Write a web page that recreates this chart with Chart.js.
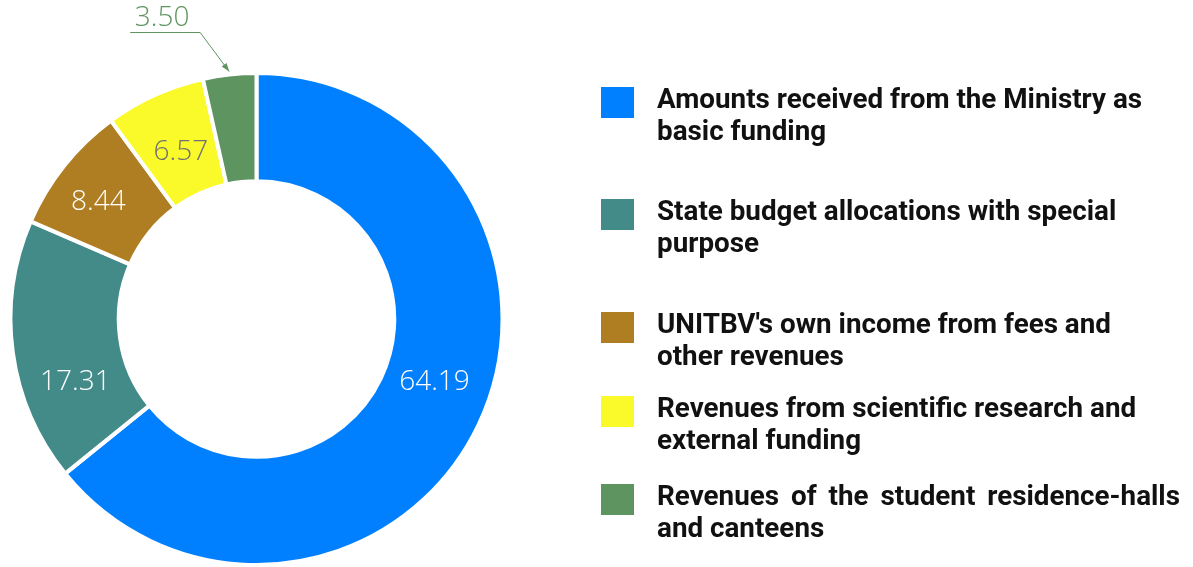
<!DOCTYPE html>
<html>
<head>
<meta charset="utf-8">
<script src="https://cdn.jsdelivr.net/npm/chart.js@4.4.1/dist/chart.umd.min.js"></script>
<style>
  html, body { margin: 0; padding: 0; background: #ffffff; }
  #wrap { position: relative; width: 1193px; height: 567px; overflow: hidden; }
  #chart { position: absolute; left: 0; top: 0; }
  #legend { position: absolute; left: 0; top: 0; width: 1193px; height: 567px; pointer-events: none;
            font-family: Roboto, "Open Sans", sans-serif; font-weight: 700; font-size: 27.8px; color: #111; }
  .item { position: absolute; left: 601px; }
  .box { position: absolute; left: 0; width: 33px; height: 31px; }
  .txt { position: absolute; left: 56px; width: 523px; line-height: 32px; white-space: nowrap; }
  .line { display: block; }
  .just { text-align: justify; text-align-last: justify; }
</style>
</head>
<body>
<div id="wrap">
  <canvas id="chart" width="1193" height="567"></canvas>
  <div id="legend"></div>
</div>
<script>
const categories = [
  "Amounts received from the Ministry as basic funding",
  "State budget allocations with special purpose",
  "UNITBV's own income from fees and other revenues",
  "Revenues from scientific research and external funding",
  "Revenues of the student residence-halls and canteens"
];
const legendLines = [
  ["Amounts received from the Ministry as", "basic funding"],
  ["State budget allocations with special", "purpose"],
  ["UNITBV's own income from fees and", "other revenues"],
  ["Revenues from scientific research and", "external funding"],
  ["Revenues of the student residence-halls", "and canteens"]
];
const values = [64.19, 17.31, 8.44, 6.57, 3.50];
const valueLabels = ["64.19", "17.31", "8.44", "6.57", "3.50"];

const colors = ["#0080ff", "#438b89", "#b07e22", "#fafa2a", "#5e9460"];
const labelColors = ["#ffffff", "#ffffff", "#ffffff", "#707070", "#5e9460"];
const externalLabel = [false, false, false, false, true];
const labelAngleShiftDeg = [-6, -11.5, -2, 0, 0];
const labelRadiusShift = [-3, 0, 5, -9, 0];
const legendTops = [87, 199, 312, 396, 484];
const justifyFirstLine = [false, false, false, false, true];

// HTML legend
const leg = document.getElementById('legend');
categories.forEach((c, i) => {
  const it = document.createElement('div');
  it.className = 'item';
  it.style.top = legendTops[i] + 'px';
  const b = document.createElement('div');
  b.className = 'box';
  b.style.background = colors[i];
  it.appendChild(b);
  const t = document.createElement('div');
  t.className = 'txt';
  t.style.top = '-4px';
  legendLines[i].forEach((ln, j) => {
    const s = document.createElement('span');
    const just = j === 0 && justifyFirstLine[i];
    s.className = 'line' + (just ? ' just' : '');
    s.style.width = just ? '523px' : 'auto';
    s.textContent = ln;
    t.appendChild(s);
  });
  it.appendChild(t);
  leg.appendChild(it);
});

const labelPlugin = {
  id: 'valueLabels',
  afterDatasetsDraw(chart) {
    const ctx = chart.ctx;
    const meta = chart.getDatasetMeta(0);
    ctx.save();
    ctx.font = '300 28px "Open Sans", sans-serif';
    ctx.textAlign = 'center';
    ctx.textBaseline = 'middle';
    meta.data.forEach((arc, i) => {
      const p = arc.getProps(['x', 'y', 'startAngle', 'endAngle', 'innerRadius', 'outerRadius'], true);
      const mid = (p.startAngle + p.endAngle) / 2 + labelAngleShiftDeg[i] * Math.PI / 180;
      ctx.fillStyle = labelColors[i];
      if (!externalLabel[i]) {
        const r = (p.innerRadius + p.outerRadius) / 2 + labelRadiusShift[i];
        ctx.fillText(valueLabels[i], p.x + Math.cos(mid) * r, p.y + Math.sin(mid) * r);
      } else {
        const tipX = p.x + Math.cos(mid) * (p.outerRadius + 3);
        const tipY = p.y + Math.sin(mid) * (p.outerRadius + 3);
        const elbowX = tipX - 29, elbowY = tipY - 39;
        const endX = elbowX - 70;
        ctx.strokeStyle = labelColors[i];
        ctx.lineWidth = 1;
        ctx.beginPath();
        ctx.moveTo(endX, elbowY);
        ctx.lineTo(elbowX, elbowY);
        ctx.lineTo(tipX, tipY);
        ctx.stroke();
        const ang = Math.atan2(tipY - elbowY, tipX - elbowX);
        ctx.beginPath();
        ctx.moveTo(tipX, tipY);
        ctx.lineTo(tipX - 9 * Math.cos(ang - 0.35), tipY - 9 * Math.sin(ang - 0.35));
        ctx.lineTo(tipX - 9 * Math.cos(ang + 0.35), tipY - 9 * Math.sin(ang + 0.35));
        ctx.closePath();
        ctx.fill();
        ctx.fillText(valueLabels[i], (endX + elbowX) / 2 - 3, elbowY - 14);
      }
    });
    ctx.restore();
  }
};

new Chart(document.getElementById('chart'), {
  type: 'doughnut',
  data: {
    labels: categories,
    datasets: [{
      data: values,
      backgroundColor: colors,
      borderColor: '#ffffff',
      borderWidth: 4,
      hoverOffset: 0
    }]
  },
  options: {
    responsive: false,
    animation: false,
    cutout: '56%',
    layout: { padding: { left: 7, top: 71, right: 687, bottom: -3 } },
    plugins: { legend: { display: false }, tooltip: { enabled: false } }
  },
  plugins: [labelPlugin]
});
</script>
</body>
</html>
